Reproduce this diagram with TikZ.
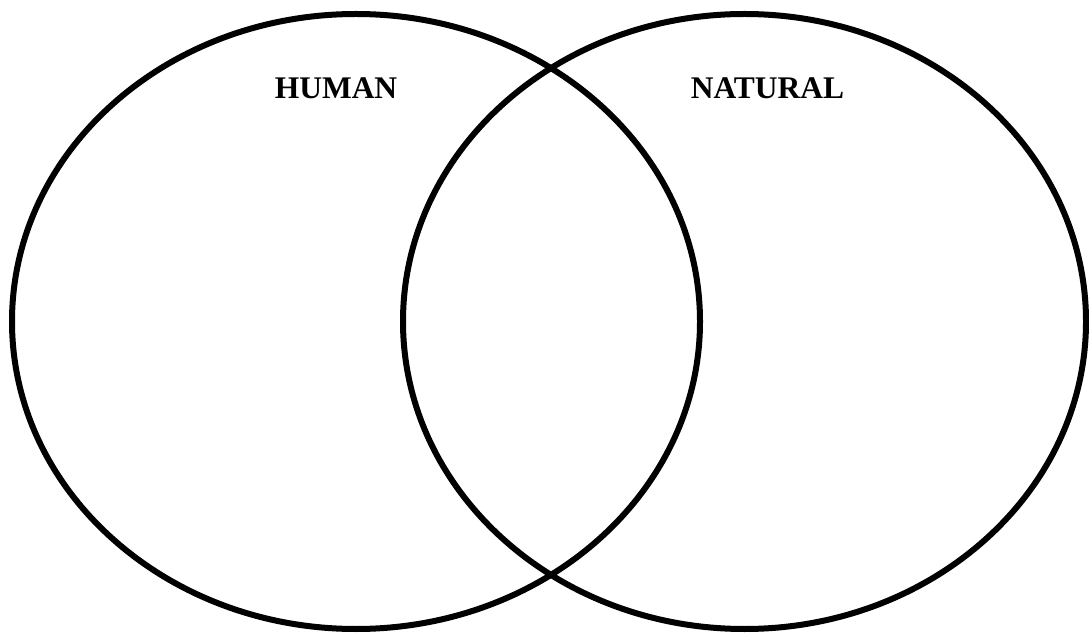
\documentclass[tikz,border=0pt]{standalone}
\usepackage{fontspec}
\setmainfont{Liberation Serif}
\begin{document}
\begin{tikzpicture}[x=1pt,y=1pt,
  ring/.style={draw=black,line width=6pt},
  lbl/.style={font=\fontsize{31.5}{36}\selectfont\bfseries,anchor=base,inner sep=0pt}]
\useasboundingbox (0,0) rectangle (1089,632);
\draw[ring] (356,310.5) ellipse [x radius=344, y radius=307.5];
\draw[ring] (744.5,310.5) ellipse [x radius=341.5, y radius=307.5];
\node[lbl] (human) at (336,533) {HUMAN};
\node[lbl] (natural) at (767.5,533) {NATURAL};
\end{tikzpicture}
\end{document}
